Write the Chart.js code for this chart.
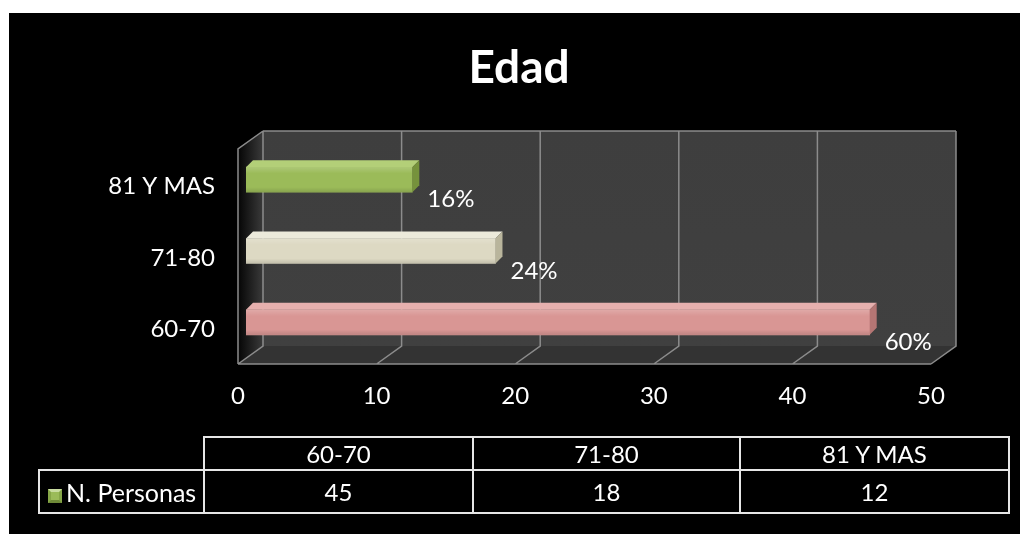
<!DOCTYPE html>
<html lang="es">
<head>
<meta charset="UTF-8">
<title>Edad</title>
<script src="https://cdn.jsdelivr.net/npm/chart.js"></script>
<style>
    body { margin: 0; background: #fff; width: 1020px; height: 534px; overflow: hidden; position: relative; font-family: Lato, "Open Sans", sans-serif; }
    .bg { position: absolute; left: 9px; top: 13px; right: 0; bottom: 0; background: #000; }
    #chart { position: absolute; left: 0; top: 0; }
    .title { position: absolute; left: 0; width: 1038px; top: 38px; text-align: center; color: #fff; font-size: 46px; font-weight: bold; line-height: 56px; }
    .data-table { position: absolute; left: 38px; top: 436px; border-collapse: collapse; color: #fff; font-size: 24px; table-layout: fixed; }
    .data-table td { border: 2px solid #e6e6e6; text-align: center; padding: 0; white-space: nowrap; }
    .data-table tr.head td { height: 31px; }
    .data-table tr.vals td { height: 41px; }
    .data-table td.blank { border-top: none; border-left: none; }
    .data-table td.series { text-align: left; padding-left: 8px; font-size: 25px; }
    .key { display: inline-block; width: 8px; height: 8px; margin-right: 4px; vertical-align: -1px; background: #9bbb59;
           border-style: solid; border-width: 3px; border-color: #c9dca0 #86a647 #6f8a38 #86a647; }
</style>
</head>
<body>
<div class="bg"></div>
<canvas id="chart" width="1020" height="534"></canvas>
<div class="title" id="title"></div>
<table class="data-table" id="dataTable"></table>

<script>
    // chart data
    const chartTitle = 'Edad';
    const categories = ['60-70', '71-80', '81 Y MAS'];
    const personas = [45, 18, 12];
    const seriesName = 'N. Personas';
    const barColors = ['#d99694', '#ddd9c3', '#9bbb59'];
    const topColors = ['#e6b0ae', '#eceadb', '#b3cf78'];
    const sideColors = ['#b57674', '#b9b59c', '#76923c'];
    const xTicks = [0, 10, 20, 30, 40, 50];

    const total = personas.reduce((a, b) => a + b, 0);

    document.getElementById('title').textContent = chartTitle;

    // table under the chart
    const table = document.getElementById('dataTable');
    const widths = [165, 269, 267, 269];
    let html = '<colgroup>' + widths.map(w => `<col style="width:${w}px">`).join('') + '</colgroup>';
    html += '<tr class="head"><td class="blank"></td>' + categories.map(c => `<td>${c}</td>`).join('') + '</tr>';
    html += `<tr class="vals"><td class="series"><span class="key"></span>${seriesName}</td>` + personas.map(v => `<td>${v}</td>`).join('') + '</tr>';
    table.innerHTML = html;

    // fake 3d box: side wall, back wall, floor and grid
    const box3d = {
        id: 'box3d',
        beforeDatasetsDraw(chart) {
            const ctx = chart.ctx, xs = chart.scales.x, a = chart.chartArea;
            const front = v => xs.getPixelForValue(v) - 8;
            const back = v => xs.getPixelForValue(v) + 17;
            const bTop = a.top - 13, bBot = a.bottom - 12, fTop = a.top + 5, fBot = a.bottom + 6;
            const x0f = front(0), x0b = back(0), x1f = front(50), x1b = back(50);
            ctx.save();
            // back wall
            let g = ctx.createLinearGradient(0, bTop, 0, bBot);
            g.addColorStop(0, '#3e3e3e'); g.addColorStop(1, '#404040');
            ctx.fillStyle = g;
            ctx.fillRect(x0b, bTop, x1b - x0b, bBot - bTop);
            // floor
            ctx.fillStyle = '#333333';
            ctx.beginPath();
            ctx.moveTo(x0b, bBot); ctx.lineTo(x1b, bBot); ctx.lineTo(x1f, fBot); ctx.lineTo(x0f, fBot);
            ctx.closePath(); ctx.fill();
            // side wall
            g = ctx.createLinearGradient(x0f, 0, x0b, 0);
            g.addColorStop(0, '#050505'); g.addColorStop(1, '#3a3a3a');
            ctx.fillStyle = g;
            ctx.beginPath();
            ctx.moveTo(x0f, fTop); ctx.lineTo(x0b, bTop); ctx.lineTo(x0b, bBot); ctx.lineTo(x0f, fBot);
            ctx.closePath(); ctx.fill();
            // grid
            ctx.strokeStyle = '#8c8c8c';
            ctx.lineWidth = 1.5;
            ctx.beginPath();
            xTicks.forEach(v => {
                ctx.moveTo(back(v), bTop); ctx.lineTo(back(v), bBot); ctx.lineTo(front(v), fBot);
            });
            ctx.moveTo(x0b, bTop); ctx.lineTo(x1b, bTop);
            ctx.moveTo(x0f, fBot); ctx.lineTo(x1f, fBot);
            ctx.moveTo(x0f, fBot); ctx.lineTo(x0f, fTop); ctx.lineTo(x0b, bTop);
            ctx.stroke();
            ctx.restore();
        },
        afterDatasetsDraw(chart) {
            const ctx = chart.ctx, d = 7;
            const meta = chart.getDatasetMeta(0);
            ctx.save();
            meta.data.forEach((bar, i) => {
                const p = bar.getProps(['x', 'y', 'base', 'height'], true);
                const t = p.y - p.height / 2, b = p.y + p.height / 2;
                // soft shading on the front face
                let g = ctx.createLinearGradient(0, t, 0, b);
                g.addColorStop(0, 'rgba(255,255,255,0.18)');
                g.addColorStop(0.25, 'rgba(255,255,255,0)');
                g.addColorStop(0.8, 'rgba(0,0,0,0)');
                g.addColorStop(1, 'rgba(0,0,0,0.12)');
                ctx.fillStyle = g;
                ctx.fillRect(p.base, t, p.x - p.base, b - t);
                // top face
                ctx.fillStyle = topColors[i];
                ctx.beginPath();
                ctx.moveTo(p.base, t); ctx.lineTo(p.base + d, t - d); ctx.lineTo(p.x + d, t - d); ctx.lineTo(p.x, t);
                ctx.closePath(); ctx.fill();
                // end face
                ctx.fillStyle = sideColors[i];
                ctx.beginPath();
                ctx.moveTo(p.x, t); ctx.lineTo(p.x + d, t - d); ctx.lineTo(p.x + d, b - d); ctx.lineTo(p.x, b);
                ctx.closePath(); ctx.fill();
                // percentage label
                ctx.fillStyle = '#fff';
                ctx.font = '24px Lato';
                ctx.textAlign = 'left';
                ctx.textBaseline = 'middle';
                ctx.fillText(Math.round(personas[i] / total * 100) + '%', p.x + 15, p.y + 20);
            });
            ctx.restore();
        }
    };

    new Chart(document.getElementById('chart'), {
        type: 'bar',
        data: {
            labels: categories,
            datasets: [{
                label: seriesName,
                data: personas,
                backgroundColor: barColors,
                barThickness: 25,
                borderWidth: 0
            }]
        },
        options: {
            indexAxis: 'y',
            responsive: false,
            animation: false,
            layout: { padding: { left: 0, right: 81, top: 144, bottom: 0 } },
            plugins: {
                legend: { display: false },
                tooltip: { enabled: false },
                title: { display: false }
            },
            scales: {
                x: {
                    min: 0, max: 50,
                    ticks: { stepSize: 10, color: '#fff', font: { family: 'Lato', size: 24 }, padding: 24, labelOffset: -8 },
                    grid: { display: false, drawTicks: false },
                    border: { display: false },
                    afterFit: s => { s.height = 176; }
                },
                y: {
                    reverse: true,
                    ticks: { color: '#fff', font: { family: 'Lato', size: 24 }, padding: 31, labelOffset: 7 },
                    grid: { display: false, drawTicks: false },
                    border: { display: false },
                    afterFit: s => { s.width = 246; }
                }
            }
        },
        plugins: [box3d]
    });
</script>
</body>
</html>
